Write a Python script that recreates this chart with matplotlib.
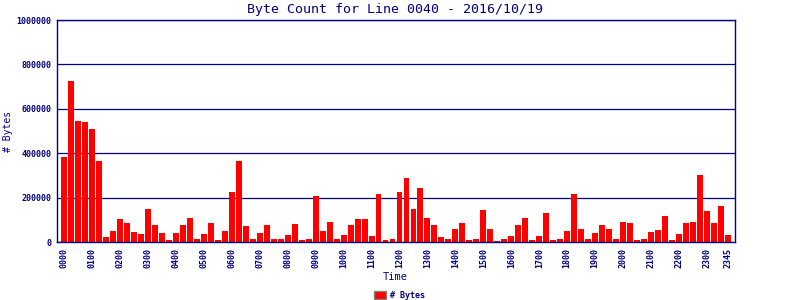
import matplotlib
matplotlib.use("Agg")
import matplotlib.pyplot as plt
from matplotlib.patches import Rectangle

title = "Byte Count for Line 0040 - 2016/10/19"
times = ["%02d%02d" % (h, m) for h in range(24) for m in (0, 15, 30, 45)]
byte_counts = [
    385000, 723000, 547000, 540000, 511000, 367000, 24000, 51000,
    105000, 87000, 47000, 38000, 150000, 78000, 42000, 10000,
    42000, 78000, 110000, 15000, 38000, 87000, 10000, 51000,
    227000, 367000, 74000, 15000, 42000, 78000, 15000, 15000,
    33000, 83000, 10000, 15000, 209000, 51000, 92000, 15000,
    33000, 78000, 105000, 105000, 29000, 214000, 10000, 15000,
    227000, 290000, 150000, 241000, 110000, 78000, 24000, 15000,
    60000, 87000, 10000, 15000, 146000, 60000, 6000, 15000,
    29000, 78000, 110000, 10000, 29000, 132000, 10000, 15000,
    51000, 214000, 60000, 15000, 42000, 78000, 60000, 15000,
    92000, 87000, 10000, 15000, 47000, 56000, 119000, 10000,
    38000, 87000, 92000, 304000, 141000, 87000, 164000, 33000,
]
tick_labels = [t for i, t in enumerate(times) if i % 4 == 0] + ["2345"]
tick_pos = [i for i in range(len(times)) if i % 4 == 0] + [len(times) - 1]
y_ticks = [0, 200000, 400000, 600000, 800000, 1000000]
series_name = "# Bytes"

navy = "#000080"
mono = ["DejaVu Sans Mono"]

fig = plt.figure(figsize=(8, 3), dpi=100)
ax = fig.add_axes([57 / 800, 1 - 242 / 300, (735 - 57) / 800, (242 - 20) / 300])

x = list(range(len(times)))
ax.bar(x, byte_counts, width=0.85, color="#ff0000", zorder=3)

ax.set_xlim(-1, len(times))
ax.set_ylim(0, 1000000)
ax.set_yticks(y_ticks)
ax.set_yticklabels([str(v) for v in y_ticks], family=mono, fontsize=6, color=navy, fontweight="bold")
ax.set_xticks(tick_pos)
ax.set_xticklabels(tick_labels, rotation=90, family=mono, fontsize=6, color=navy, fontweight="bold")
ax.tick_params(axis="both", length=0, pad=4)
ax.grid(axis="y", color=navy, linewidth=0.9, zorder=1)
for s in ax.spines.values():
    s.set_color(navy)
    s.set_linewidth(1.0)
    s.set_zorder(4)

fig.text(395 / 800, 1 - 9 / 300, title, ha="center", va="center", family=mono, fontsize=9.5, color=navy)
fig.text(395 / 800, 1 - 277 / 300, "Time", ha="center", va="center", family=mono, fontsize=7.5, color=navy)
fig.text(8 / 800, 1 - 131 / 300, series_name, ha="center", va="center", rotation=90, family=mono, fontsize=7, color=navy)

fig.patches.append(Rectangle((374 / 800, 1 - 299 / 300), 12 / 800, 8 / 300, transform=fig.transFigure,
                             facecolor="#ff0000", edgecolor="#808080", linewidth=1.0))
fig.text(390 / 800, 1 - 295 / 300, series_name, ha="left", va="center", family=mono, fontsize=6, color=navy, fontweight="bold")

fig.savefig("out.png", dpi=100)
